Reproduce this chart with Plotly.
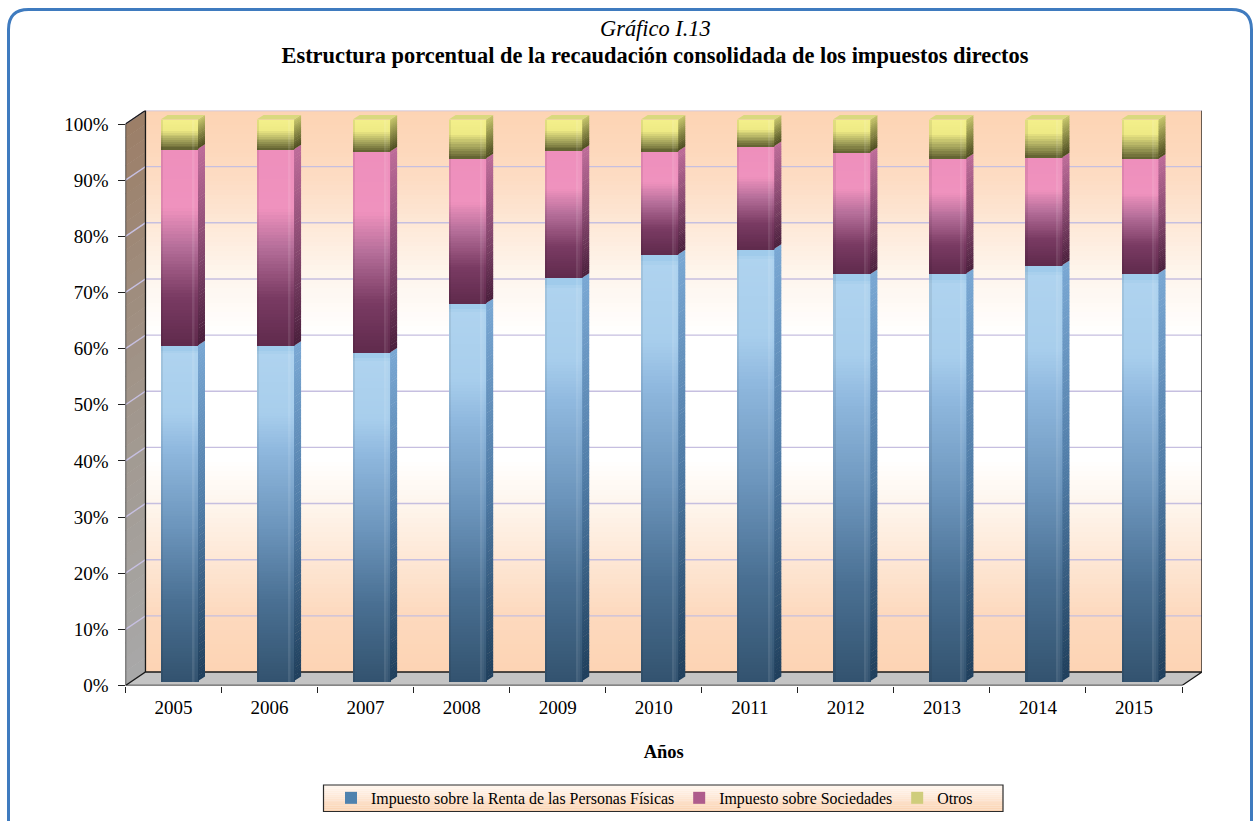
import plotly.graph_objects as go

W, H = 1253, 821
FONT = "Liberation Serif"

# ---------- data (percentage shares) ----------
years = [2005, 2006, 2007, 2008, 2009, 2010, 2011, 2012, 2013, 2014, 2015]
renta = [59.8, 59.7, 58.5, 67.3, 71.8, 76.0, 77.0, 72.5, 72.6, 74.1, 72.6]
sociedades = [35.0, 35.0, 35.8, 25.8, 22.8, 18.4, 18.3, 21.7, 20.5, 19.2, 20.4]
otros = [5.2, 5.3, 5.7, 6.9, 5.4, 5.6, 4.7, 5.8, 6.9, 6.7, 7.0]
y_ticks = [0, 10, 20, 30, 40, 50, 60, 70, 80, 90, 100]
series_names = ["Impuesto sobre la Renta de las Personas Físicas", "Impuesto sobre Sociedades", "Otros"]

# ---------- style ----------
legend_colors = ["#4F82AE", "#AE5C8C", "#CFCD7C"]
front_stops = [
    [(0, "#A0CBEB"), (0.018, "#A0CBEB"), (0.02, "#AFD3EF"), (0.2, "#A8CEEC"), (0.31, "#8FB8DE"),
     (0.54, "#6C95BC"), (0.76, "#4A7093"), (1, "#33536F")],
    [(0, "#EE8FBC"), (0.3, "#EF92BE"), (0.5, "#B56E99"), (0.75, "#7A3B63"), (1, "#5F2A4C")],
    [(0, "#F3EF8A"), (0.35, "#EEEA85"), (0.7, "#A3A25B"), (1, "#5E5E2E")],
]
side_stops = [
    [(0, "#7AA8D4"), (0.5, "#4F7BA6"), (1, "#1F3F5C")],
    [(0, "#BE6C9A"), (0.5, "#8A4A72"), (1, "#4A1F3C")],
    [(0, "#C8C86C"), (1, "#4C4C20")],
]
bands = [130, 60, 16]
wall_stops = [(0, "#FDD4B4"), (0.1, "#FDD9BE"), (0.28, "#FEF3E9"), (0.38, "#FFFFFF"), (0.6, "#FFFFFF"),
              (0.72, "#FEF4EB"), (0.88, "#FDDCC3"), (1, "#FDD4B4")]
side_wall_stops = [(0, "#A8A8A8"), (0.4, "#A29A92"), (1, "#9C7F68")]

# 3-D offsets in axis units
WALL_DX, WALL_DY = 0.208, 2.404
BAR_SHIFT, BAR_WIDTH, BAR_LIFT = 0.06, 0.39, 0.8
SIDE_DX, SIDE_DY = 0.073, 0.8
X0, X1 = years[0] - 0.5, years[-1] + 0.5


def hex2rgb(c):
    return tuple(int(c[i:i + 2], 16) for i in (1, 3, 5))


def mix(stops, t):
    for (a, ca), (b, cb) in zip(stops, stops[1:]):
        if t <= b:
            f = 0 if b == a else (t - a) / (b - a)
            ra, rb = hex2rgb(ca), hex2rgb(cb)
            return "rgb(%d,%d,%d)" % tuple(round(ra[i] + (rb[i] - ra[i]) * f) for i in range(3))
    return stops[-1][1]


fig = go.Figure()

# ---------- walls ----------
n_wall = 120
wall_edges = [y_ticks[0] + WALL_DY + 100 * i / n_wall for i in range(n_wall + 1)]
wall_colors = [[i / (n_wall - 1), mix(wall_stops, i / (n_wall - 1))] for i in range(n_wall)]
fig.add_trace(go.Heatmap(
    x=[X0 + WALL_DX, X1 + WALL_DX], y=wall_edges, z=[[i] for i in range(n_wall)],
    colorscale=wall_colors, showscale=False, hoverinfo="skip",
))
for i in range(40):
    a, b = 100 * i / 40, 100 * (i + 1) / 40
    fig.add_trace(go.Scatter(
        x=[X0, X0 + WALL_DX, X0 + WALL_DX, X0, X0],
        y=[a, a + WALL_DY, b + WALL_DY + 0.1, b + 0.1, a],
        mode="lines", line_width=0, fill="toself", fillcolor=mix(side_wall_stops, i / 39),
        hoverinfo="skip", showlegend=False,
    ))
fig.add_trace(go.Scatter(
    x=[X0, X0 + WALL_DX, X1 + WALL_DX, X1, X0], y=[0, WALL_DY, WALL_DY, 0, 0],
    mode="lines", line_width=0, fill="toself", fillcolor="#C4C4C4", hoverinfo="skip", showlegend=False,
))

# gridlines on side wall and back wall
gx, gy = [], []
for t in y_ticks[1:]:
    gx += [X0, X0 + WALL_DX, X1 + WALL_DX, None]
    gy += [t, t + WALL_DY, t + WALL_DY, None]
fig.add_trace(go.Scatter(x=gx, y=gy, mode="lines", line=dict(color="#C6BFE0", width=1.4),
                         hoverinfo="skip", showlegend=False))

# frame edges
edge_x = [X0, X0 + WALL_DX, X0 + WALL_DX, None, X0, X0 + WALL_DX, X1 + WALL_DX, X1, None,
          X1 + WALL_DX, X1 + WALL_DX, None, X0, X0, X1]
edge_y = [100, 100 + WALL_DY, WALL_DY, None, 0, WALL_DY, WALL_DY, 0, None,
          WALL_DY, 100 + WALL_DY, None, 100, 0, 0]
fig.add_trace(go.Scatter(x=edge_x, y=edge_y, mode="lines", line=dict(color="#1A1A1A", width=1.3),
                         hoverinfo="skip", showlegend=False))

# ---------- bars (drawn on an overlaying subplot so that they sit above the walls) ----------
series = [renta, sociedades, otros]
bar_x = [v + BAR_SHIFT for v in years]
base = [BAR_LIFT] * len(years)
for s, values in enumerate(series):
    fig.add_trace(go.Bar(
        x=bar_x, y=values, base=base, width=BAR_WIDTH, name=series_names[s],
        marker=dict(color=legend_colors[s], line_width=0), xaxis="x2", yaxis="y2", hoverinfo="skip",
    ))
    n = bands[s]
    for k in range(n):
        t0, t1 = k / n, (k + 1) / n
        tm = (t0 + t1) / 2
        hi = [b + v * (1 - t0) for b, v in zip(base, values)]
        lo = [b + v * (1 - t1) for b, v in zip(base, values)]
        fig.add_trace(go.Bar(
            x=bar_x, y=[h - l for h, l in zip(hi, lo)], base=lo, width=BAR_WIDTH,
            marker=dict(color=mix(front_stops[s], tm), line_width=0),
            xaxis="x2", yaxis="y2", hoverinfo="skip", showlegend=False,
        ))
        px, py = [], []
        for xc, h, l in zip(bar_x, hi, lo):
            xr = xc + BAR_WIDTH / 2
            top = h + (0.08 if k else 0)
            px += [xr, xr + SIDE_DX, xr + SIDE_DX, xr, xr, None]
            py += [l, l + SIDE_DY, top + SIDE_DY, top, l, None]
        fig.add_trace(go.Scatter(
            x=px, y=py, mode="lines", line_width=0, fill="toself",
            fillcolor=mix(side_stops[s], tm),
            xaxis="x2", yaxis="y2", hoverinfo="skip", showlegend=False,
        ))
    base = [b + v for b, v in zip(base, values)]

# top caps
cx, cy = [], []
for xc, b in zip(bar_x, base):
    xl, xr = xc - BAR_WIDTH / 2, xc + BAR_WIDTH / 2
    cx += [xl, xl + SIDE_DX, xr + SIDE_DX, xr, xl, None]
    cy += [b, b + SIDE_DY, b + SIDE_DY, b, b, None]
fig.add_trace(go.Scatter(x=cx, y=cy, mode="lines", line_width=0, fill="toself", fillcolor="#DAD97F",
                         xaxis="x2", yaxis="y2", hoverinfo="skip", showlegend=False))

# vertical sheen on front faces
full = [100] * len(years)
lift = [BAR_LIFT] * len(years)
for off, wid, col in [(-BAR_WIDTH / 2, 0.022, "rgba(0,0,0,0.07)"),
                      (0.125, 0.022, "rgba(255,255,255,0.10)"),
                      (0.147, 0.016, "rgba(255,255,255,0.05)")]:
    fig.add_trace(go.Bar(
        x=bar_x, y=full, base=lift, width=wid, offset=off,
        marker=dict(color=col, line_width=0), xaxis="x2", yaxis="y2", hoverinfo="skip", showlegend=False,
    ))

# ---------- card and legend box ----------
xp = lambda v: v / W
yp = lambda v: 1 - v / H
l, t, r, rad = 8.5, 9.5, 1251.5, 20
card_paper = (f"M {xp(l)},{yp(H + 20)} L {xp(l)},{yp(t + rad)} Q {xp(l)},{yp(t)} {xp(l + rad)},{yp(t)} "
              f"L {xp(r - rad)},{yp(t)} Q {xp(r)},{yp(t)} {xp(r)},{yp(t + rad)} L {xp(r)},{yp(H + 20)}")
shapes = [dict(type="path", xref="paper", yref="paper", path=card_paper,
               line=dict(color="#3F7BBF", width=3))]
box_top, box_bot, box_l, box_r = 785.0, 811.5, 323.5, 1003.0
legend_stops = [(0, "#FFF6EE"), (0.35, "#FEEBDC"), (1, "#FBD3B2")]
m = 14
for i in range(m):
    shapes.append(dict(type="rect", xref="paper", yref="paper", line_width=0,
                       x0=xp(box_l), x1=xp(box_r),
                       y0=yp(box_top + (box_bot - box_top) * i / m),
                       y1=yp(box_top + (box_bot - box_top) * (i + 1) / m),
                       fillcolor=mix(legend_stops, i / (m - 1))))
shapes.append(dict(type="rect", xref="paper", yref="paper", x0=xp(box_l), x1=xp(box_r),
                   y0=yp(box_top), y1=yp(box_bot), line=dict(color="#2B2B2B", width=1.2)))

range_x = [X0, X1 + WALL_DX]
range_y = [0, 100 + WALL_DY]
dom_x = [125.5 / W, 1202 / W]
dom_y = [1 - 685.5 / H, 1 - 110.5 / H]

fig.update_layout(
    width=W, height=H, autosize=False, margin=dict(l=0, r=0, t=0, b=0, autoexpand=False),
    paper_bgcolor="white", plot_bgcolor="rgba(0,0,0,0)",
    font=dict(family=FONT, color="black"),
    barmode="overlay", bargap=0, shapes=shapes,
    title=dict(
        text="<b>Estructura porcentual de la recaudación consolidada de los impuestos directos</b>",
        x=655 / W, xanchor="center", y=1 - 55 / H, yanchor="middle",
        font=dict(family=FONT, size=22.4, color="black"),
    ),
    annotations=[dict(text="<i>Gráfico I.13</i>", xref="paper", yref="paper", x=655 / W, y=1 - 29 / H,
                      xanchor="center", yanchor="middle", showarrow=False,
                      font=dict(family=FONT, size=22.4, color="black"))],
    xaxis=dict(
        domain=dom_x, range=range_x, tickmode="array", tickvals=years, ticktext=[str(v) for v in years],
        ticks="", showgrid=False, zeroline=False, showline=False, tickfont=dict(size=19),
        ticklabelstandoff=8,
        minor=dict(tickmode="linear", tick0=X0, dtick=1, ticks="outside", ticklen=6, tickcolor="#222", tickwidth=1.2, showgrid=False),
        title=dict(text="<b>Años</b>", font=dict(size=18.5), standoff=28),
    ),
    yaxis=dict(
        domain=dom_y, range=range_y, tickmode="array", tickvals=y_ticks, ticktext=[f"{v}%" for v in y_ticks],
        ticks="outside", ticklen=7, tickcolor="#222", tickwidth=1.2, showgrid=False, zeroline=False,
        showline=False, tickfont=dict(size=19), ticklabelstandoff=5,
    ),
    xaxis2=dict(domain=dom_x, range=range_x, overlaying="x", visible=False),
    yaxis2=dict(domain=dom_y, range=range_y, overlaying="y", visible=False),
    legend=dict(
        orientation="h", x=331 / W, xanchor="left", y=1 - 798 / H, yanchor="middle",
        bgcolor="rgba(0,0,0,0)", borderwidth=0, font=dict(size=15.9), traceorder="normal",
    ),
)

fig.write_html("out.html", config={"displayModeBar": False},
               post_script="document.body.style.margin='0';document.body.style.overflow='hidden';")
